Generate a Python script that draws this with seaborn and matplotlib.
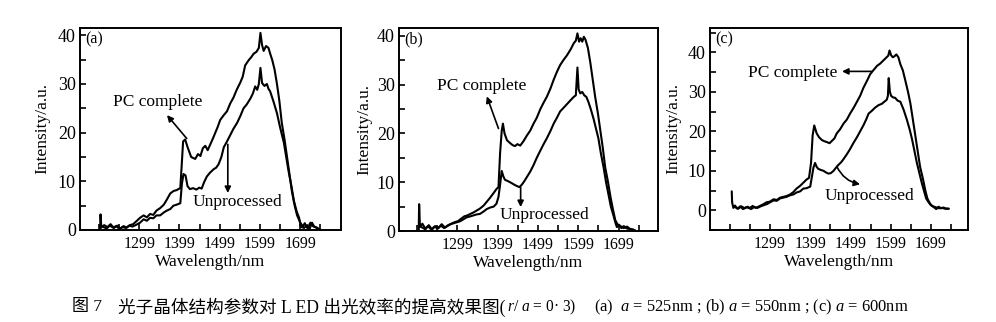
import numpy as np
import pandas as pd
import matplotlib
matplotlib.use("Agg")
import matplotlib.pyplot as plt
import seaborn as sns
from matplotlib.ticker import FixedLocator, MultipleLocator

# ---------------- data ----------------
# panel (a) a = 525 nm
a_pc_wl = [1202, 1203, 1205, 1212, 1220, 1228, 1236, 1244, 1252, 1260, 1268, 1276, 1284, 1292, 1301, 1310,
           1318, 1326, 1334, 1342, 1351, 1360, 1368, 1376, 1384, 1392, 1401, 1405, 1408, 1413, 1420, 1428,
           1438, 1445, 1451, 1457, 1463, 1469, 1475, 1482, 1488, 1494, 1500, 1508, 1517, 1525, 1533, 1541,
           1550, 1556, 1562, 1570, 1578, 1583, 1590, 1596, 1600, 1604, 1608, 1614, 1620, 1625, 1629, 1635,
           1641, 1647, 1653, 1660, 1666, 1672, 1678, 1685, 1691, 1699, 1708, 1716, 1722, 1728, 1734, 1740, 1749]
a_pc_int = [0.3, 3.2, 0.5, 1.0, 0.6, 1.2, 0.4, 0.9, 0.3, 0.8, 0.5, 1.0, 1.2, 1.8, 2.5, 3.0,
            2.6, 3.3, 3.1, 4.0, 4.5, 5.2, 6.3, 7.5, 8.0, 8.2, 8.6, 14.0, 18.2, 18.6, 16.8, 15.0,
            14.6, 15.6, 15.2, 16.8, 17.3, 16.4, 17.5, 18.8, 20.0, 21.2, 22.6, 23.5, 24.4, 26.0, 27.2, 28.8,
            30.3, 31.5, 33.8, 34.8, 35.6, 36.2, 36.6, 37.4, 40.5, 38.0, 36.8, 37.8, 37.4, 36.0, 35.0, 33.0,
            30.0, 26.5, 22.0, 18.5, 15.0, 11.5, 8.0, 5.0, 3.0, 1.5, 0.4, 1.0, 0.2, 1.5, 0.6, 0.5, 0.0]
a_un_wl = [1210, 1218, 1226, 1234, 1242, 1250, 1258, 1266, 1274, 1282, 1290, 1301, 1310, 1318, 1326, 1334,
           1342, 1351, 1360, 1368, 1376, 1384, 1392, 1401, 1405, 1409, 1414, 1419, 1425, 1433, 1441, 1448,
           1454, 1460, 1467, 1475, 1484, 1490, 1496, 1503, 1509, 1517, 1525, 1533, 1542, 1550, 1558, 1566,
           1575, 1581, 1587, 1592, 1596, 1600, 1604, 1610, 1616, 1620, 1624, 1632, 1641, 1649, 1658, 1664,
           1670, 1677, 1683, 1690, 1696, 1700, 1704, 1710, 1717, 1724, 1730, 1737, 1743, 1749]
a_un_int = [0.6, 0.3, 0.9, 0.5, 0.8, 0.2, 0.6, 0.4, 0.9, 0.7, 1.0, 1.5, 2.2, 1.9, 2.5, 2.4,
            3.0, 3.0, 3.6, 4.0, 4.3, 5.0, 5.2, 5.5, 9.5, 11.5, 11.2, 9.0, 8.4, 8.6, 8.3, 8.7,
            8.5, 9.8, 11.0, 11.8, 12.5, 12.8, 13.5, 15.0, 17.0, 18.2, 19.5, 20.8, 22.0, 23.4, 25.0, 25.8,
            27.0, 28.0, 29.5, 28.8, 30.0, 33.3, 30.2, 29.6, 30.0, 29.0, 28.5, 26.5, 24.0, 21.0, 18.0, 15.0,
            12.0, 9.0, 6.0, 3.8, 2.5, 0.8, 0.5, 1.4, 0.3, 1.5, 0.8, 0.6, 0.2, 0.0]

# panel (b) a = 550 nm
b_pc_wl = [1203, 1204, 1206, 1212, 1220, 1228, 1236, 1244, 1252, 1260, 1268, 1276, 1284, 1292, 1300, 1308,
           1316, 1324, 1331, 1339, 1347, 1355, 1364, 1372, 1380, 1389, 1396, 1401, 1405, 1409, 1412, 1416,
           1422, 1430, 1436, 1442, 1448, 1455, 1463, 1471, 1480, 1488, 1496, 1505, 1513, 1521, 1530, 1538,
           1546, 1554, 1562, 1571, 1580, 1588, 1593, 1597, 1601, 1605, 1609, 1613, 1617, 1623, 1629, 1635,
           1641, 1648, 1654, 1660, 1666, 1673, 1679, 1685, 1691, 1697, 1704, 1712, 1720, 1728, 1735, 1741]
b_pc_int = [0.2, 5.5, 0.8, 1.5, 0.4, 1.2, 0.3, 1.0, 0.6, 1.4, 0.7, 1.2, 1.5, 1.8, 2.0, 2.5,
            3.0, 3.2, 3.5, 3.8, 4.2, 4.6, 5.2, 6.0, 6.8, 7.8, 8.6, 9.0, 16.0, 20.5, 22.0, 20.0,
            18.6, 18.0, 17.6, 17.4, 17.8, 17.5, 18.4, 19.5, 20.6, 22.0, 23.2, 25.0, 26.3, 27.5, 29.2, 31.0,
            32.6, 34.0, 35.0, 36.0, 37.2, 38.5, 39.0, 40.5, 38.8, 39.5, 38.8, 39.8, 39.2, 37.5, 34.5, 31.0,
            27.5, 24.0, 20.5, 17.0, 13.0, 10.0, 7.0, 4.5, 2.2, 1.3, 1.0, 0.6, 0.9, 0.4, 0.3, 0.1]
b_un_wl = [1210, 1218, 1226, 1234, 1242, 1250, 1258, 1266, 1274, 1282, 1290, 1298, 1306, 1314, 1322, 1331,
           1339, 1347, 1355, 1364, 1372, 1380, 1389, 1396, 1401, 1405, 1409, 1413, 1417, 1425, 1434, 1440,
           1447, 1453, 1459, 1465, 1471, 1480, 1488, 1496, 1505, 1513, 1521, 1530, 1538, 1546, 1554, 1562,
           1571, 1580, 1588, 1593, 1597, 1600, 1604, 1609, 1614, 1619, 1624, 1630, 1637, 1643, 1649, 1655,
           1662, 1668, 1674, 1680, 1687, 1692, 1695, 1700, 1706, 1712, 1720, 1728, 1737]
b_un_int = [0.8, 0.4, 1.0, 0.3, 0.9, 0.5, 1.1, 0.6, 1.0, 1.4, 1.6, 1.8, 2.0, 2.4, 2.8, 3.0,
            3.2, 3.4, 3.5, 4.0, 4.5, 4.8, 5.0, 5.6, 7.0, 9.5, 12.3, 11.2, 10.5, 10.2, 9.8, 9.5,
            9.2, 9.0, 9.5, 10.2, 11.0, 12.2, 13.5, 15.0, 16.5, 17.8, 19.0, 20.5, 22.0, 23.2, 24.5, 25.2,
            26.0, 26.8, 27.5, 27.8, 33.5, 29.0, 28.2, 28.5, 27.8, 27.5, 26.5, 25.0, 23.0, 21.0, 19.0, 16.0,
            13.0, 10.0, 7.5, 5.0, 3.0, 1.5, 0.8, 1.3, 0.6, 1.0, 0.5, 0.4, 0.2]

# panel (c) a = 600 nm
c_pc_wl = [1204, 1205, 1208, 1212, 1218, 1225, 1232, 1240, 1248, 1256, 1264, 1272, 1282, 1290, 1299, 1308,
           1316, 1324, 1332, 1340, 1349, 1357, 1365, 1374, 1382, 1390, 1396, 1401, 1405, 1409, 1415, 1421,
           1428, 1434, 1440, 1447, 1453, 1459, 1465, 1473, 1482, 1490, 1498, 1507, 1515, 1523, 1531, 1540,
           1548, 1556, 1565, 1573, 1581, 1589, 1593, 1596, 1600, 1604, 1608, 1613, 1618, 1623, 1629, 1635,
           1642, 1648, 1654, 1660, 1666, 1672, 1679, 1685, 1690, 1695, 1700, 1706, 1712, 1718, 1724, 1730,
           1737, 1743]
c_pc_int = [4.8, 2.0, 0.6, 1.2, 0.4, 1.0, 0.3, 0.8, 0.5, 1.1, 0.6, 1.0, 1.5, 2.0, 2.2, 2.8,
            2.6, 3.2, 3.4, 3.6, 4.0, 4.6, 5.5, 6.2, 7.0, 7.8, 8.2, 12.0, 19.0, 21.5, 19.5, 18.5,
            17.8, 17.5, 17.3, 17.0, 17.6, 18.2, 19.5, 20.5, 22.0, 23.0, 24.5, 26.0, 27.5, 29.0, 31.0, 32.8,
            34.5, 35.5, 36.6, 37.2, 38.0, 38.8, 39.2, 40.5, 39.3, 38.8, 39.0, 39.5, 38.8, 37.0, 35.5, 33.0,
            30.0, 27.0, 23.0, 19.0, 15.0, 11.0, 8.0, 5.0, 3.0, 2.0, 1.2, 0.8, 0.3, 0.9, 0.5, 0.7,
            0.4, 0.4]
c_un_wl = [1212, 1220, 1228, 1236, 1244, 1252, 1260, 1268, 1276, 1284, 1292, 1299, 1308, 1316, 1324, 1332,
           1340, 1349, 1357, 1365, 1374, 1382, 1390, 1399, 1404, 1407, 1411, 1415, 1419, 1426, 1432, 1438,
           1444, 1450, 1457, 1463, 1469, 1476, 1482, 1490, 1498, 1506, 1515, 1523, 1531, 1538, 1544, 1552,
           1560, 1568, 1577, 1583, 1589, 1592, 1594, 1597, 1600, 1605, 1610, 1616, 1623, 1631, 1639, 1646,
           1652, 1658, 1664, 1670, 1676, 1682, 1687, 1692, 1697, 1704, 1710, 1718, 1726, 1734, 1743]
c_un_int = [0.8, 0.4, 1.0, 0.5, 0.9, 0.3, 0.8, 0.6, 1.0, 1.3, 1.6, 2.0, 2.5, 2.4, 3.0, 3.2,
            3.4, 3.8, 4.0, 4.5, 4.8, 5.5, 5.6, 6.0, 9.0, 10.8, 12.0, 11.0, 10.5, 10.2, 10.0, 9.6,
            9.3, 9.4, 10.0, 10.8, 11.5, 12.2, 13.0, 14.2, 15.5, 17.0, 18.5, 20.0, 21.5, 23.0, 24.5, 25.2,
            26.0, 26.6, 27.0, 27.5, 28.0, 29.0, 33.5, 30.0, 29.0, 28.6, 28.5, 27.8, 27.5, 25.5, 23.0, 20.5,
            18.0, 15.0, 12.0, 9.5, 7.0, 4.8, 3.0, 2.2, 1.5, 1.0, 0.8, 0.5, 0.6, 0.4, 0.4]

x_major = [1299, 1399, 1499, 1599, 1699]
x_labels = ["1299", "1399", "1499", "1599", "1699"]
x_minor = [1199, 1249, 1349, 1449, 1549, 1649, 1749]
panel_tags = ["(a)", "(b)", "(c)"]
series_names = ["PC complete", "Unprocessed"]
caption_parts = ["图 7",
                 "光子晶体结构参数对 L ED 出光效率的提高效果图(",
                 "$r$/ $a$ = 0· 3)",
                 "(a)  $a$ = 525nm ; (b) $a$ = 550nm ; (c) $a$ = 600nm"]

# ---------------- style ----------------
sns.set_style("ticks")
plt.rcParams["font.family"] = ["Liberation Serif", "Noto Sans CJK SC"]
plt.rcParams["mathtext.fontset"] = "custom"
plt.rcParams["mathtext.rm"] = "Liberation Serif"
plt.rcParams["mathtext.it"] = "Liberation Serif:italic"
for k in ["text.color", "axes.labelcolor", "xtick.color", "ytick.color", "axes.edgecolor"]:
    plt.rcParams[k] = "black"
plt.rcParams["axes.linewidth"] = 1.4
plt.rcParams["xtick.direction"] = "in"
plt.rcParams["ytick.direction"] = "in"

fig = plt.figure(figsize=(9.96, 3.22), dpi=100)
W, H = 996.0, 322.0

panels = [
    dict(box=(80, 28, 341, 230), xlim=(1152, 1800), ylim=(0, 41.5), ylab_x=-0.115,
         pc=(a_pc_wl, a_pc_int), un=(a_un_wl, a_un_int),
         pc_txt=(1344, 26.2), pc_arr=((1417, 18.8), (1368, 23.6)),
         un_txt=(1542, 5.8), un_arr=((1519, 17.6), (1519, 7.6)), un_rad=0.0),
    dict(box=(399, 28, 658, 231), xlim=(1154, 1797), ylim=(0, 41.6), ylab_x=-0.104,
         pc=(b_pc_wl, b_pc_int), un=(b_un_wl, b_un_int),
         pc_txt=(1360, 29.8), pc_arr=((1401, 21.0), (1372, 27.6)),
         un_txt=(1514, 3.2), un_arr=((1456, 9.0), (1456, 4.9)), un_rad=0.0),
    dict(box=(710, 28, 968, 230), xlim=(1150, 1791), ylim=(-5.0, 46.2), ylab_x=-0.110,
         pc=(c_pc_wl, c_pc_int), un=(c_un_wl, c_un_int),
         pc_txt=(1356, 34.9), pc_arr=((1552, 35.2), (1478, 35.2)),
         un_txt=(1547, 3.7), un_arr=((1465, 11.1), (1523, 6.6)), un_rad=0.25),
]

for i, p in enumerate(panels):
    l, t, r, b = p["box"]
    ax = fig.add_axes([l / W, 1 - b / H, (r - l) / W, (b - t) / H])
    for name, (wl, val) in zip(series_names, (p["pc"], p["un"])):
        df = pd.DataFrame({"Wavelength": wl, "Intensity": val})
        sns.lineplot(data=df, x="Wavelength", y="Intensity", color="black",
                     linewidth=1.5, estimator=None, sort=False, ax=ax)
    ax.set_xlim(*p["xlim"])
    ax.set_ylim(*p["ylim"])
    ax.xaxis.set_major_locator(FixedLocator(x_major))
    ax.set_xticklabels(x_labels)
    ax.xaxis.set_minor_locator(FixedLocator(x_minor))
    ax.yaxis.set_major_locator(MultipleLocator(10))
    ax.yaxis.set_minor_locator(MultipleLocator(5))
    ax.tick_params(which="both", direction="in", length=4, width=1.2)
    ax.tick_params(axis="x", labelsize=11.5, pad=4)
    ax.tick_params(axis="y", labelsize=13, pad=3)
    for s in ax.spines.values():
        s.set_visible(True)
        s.set_linewidth(1.4)
    ax.set_xlabel("Wavelength/nm", fontsize=12.5, labelpad=2)
    ax.set_ylabel("Intensity/a.u.", fontsize=12.5)
    ax.yaxis.set_label_coords(p["ylab_x"], 0.5)
    ax.text(0.02, 0.985, panel_tags[i], transform=ax.transAxes, ha="left", va="top", fontsize=11.5)

    ax.text(*p["pc_txt"], series_names[0], ha="center", va="center", fontsize=12.5)
    ax.text(*p["un_txt"], series_names[1], ha="center", va="center", fontsize=12.5)
    aprops = dict(arrowstyle="-|>", color="black", lw=1.2, mutation_scale=9, shrinkA=0, shrinkB=0)
    ax.annotate("", xy=p["pc_arr"][1], xytext=p["pc_arr"][0], arrowprops=aprops)
    aprops2 = dict(aprops, connectionstyle="arc3,rad=%.2f" % p["un_rad"])
    ax.annotate("", xy=p["un_arr"][1], xytext=p["un_arr"][0], arrowprops=aprops2)

cap_y = 1 - 307 / H
cap_x = [72, 118, 507, 594]
cap_size = [12.3, 12.7, 11.2, 11.9]
for xp, fs, txt in zip(cap_x, cap_size, caption_parts):
    fig.text(xp / W, cap_y, txt, ha="left", va="center", fontsize=fs,
             family=["Liberation Serif", "Noto Sans CJK SC"])

fig.savefig("out.png", dpi=100)
